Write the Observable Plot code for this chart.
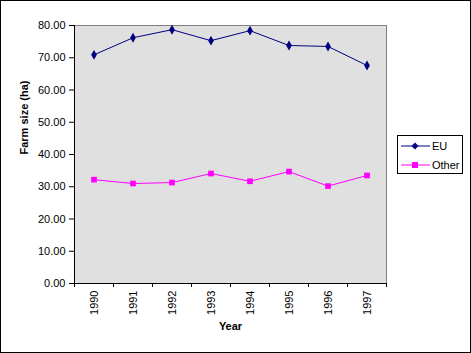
<!DOCTYPE html>
<html>
<head>
<meta charset="utf-8">
<script src="https://cdn.jsdelivr.net/npm/d3@7"></script>
<script src="https://cdn.jsdelivr.net/npm/@observablehq/plot@0.6"></script>
<style>
  html, body { margin: 0; padding: 0; background: white; }
  #wrap { position: relative; width: 471px; height: 353px; font-family: "Liberation Sans", Arial, sans-serif; }
  #border { position: absolute; left: 0; top: 0; width: 471px; height: 353px; box-sizing: border-box; border: 1px solid #000; pointer-events: none; }
  #legend { position: absolute; left: 397px; top: 135px; width: 66px; height: 39px; box-sizing: border-box; border: 1px solid #000; background: white; font-size: 11px; }
  .item { position: absolute; left: 3px; height: 14px; display: flex; align-items: center; }
  .item svg { display: block; }
  .item span { margin-left: 2px; }
</style>
</head>
<body>
<div id="wrap">
  <div id="chart"></div>
  <div id="legend"></div>
  <div id="border"></div>
</div>
<script>
const years = [1990, 1991, 1992, 1993, 1994, 1995, 1996, 1997];
const eu = [70.9, 76.2, 78.7, 75.3, 78.4, 73.8, 73.5, 67.6];
const other = [32.2, 31.0, 31.3, 34.1, 31.7, 34.7, 30.2, 33.5];
const yTicks = [0, 10, 20, 30, 40, 50, 60, 70, 80];
const seriesNames = ["EU", "Other"];
const seriesColors = ["#000080", "#ff00ff"];

const bounds = years.map(y => y - 0.5).concat([years[years.length - 1] + 0.5]);

const chart = Plot.plot({
  width: 471,
  height: 353,
  marginLeft: 74,
  marginRight: 85,
  marginTop: 25,
  marginBottom: 70,
  style: { background: "transparent", fontFamily: "'Liberation Sans', Arial, sans-serif", fontSize: "11px", color: "#000" },
  x: { type: "linear", domain: [bounds[0], bounds[bounds.length - 1]] },
  y: { domain: [0, 80] },
  marks: [
    Plot.frame({ fill: "#e0e0e0", stroke: "#808080" }),
    Plot.axisY({ ticks: yTicks, tickFormat: d => d.toFixed(2), tickSize: 5, tickPadding: 4, label: null, stroke: "#000" }),
    Plot.axisX({ ticks: bounds, tickSize: 4, tickFormat: () => "", label: null, stroke: "#000" }),
    Plot.ruleX([bounds[0]], { stroke: "#000" }),
    Plot.ruleY([0], { stroke: "#000" }),
    Plot.text(years, { x: d => d, frameAnchor: "bottom", rotate: -90, textAnchor: "end", lineAnchor: "middle", dy: 7, text: d => String(d), fill: "#000" }),
    Plot.text(["Farm size (ha)"], { frameAnchor: "left", rotate: -90, dx: -50, fontWeight: "bold", fill: "#000" }),
    Plot.text(["Year"], { frameAnchor: "bottom", dy: 46, fontWeight: "bold", fill: "#000" }),
    Plot.line(years, { x: years, y: eu, stroke: seriesColors[0], strokeWidth: 1 }),
    Plot.dot(years, { x: years, y: eu, symbol: "diamond", fill: seriesColors[0], r: 3, stroke: null }),
    Plot.line(years, { x: years, y: other, stroke: seriesColors[1], strokeWidth: 1 }),
    Plot.dot(years, { x: years, y: other, symbol: "square", fill: seriesColors[1], r: 3.2, stroke: null })
  ]
});
document.getElementById("chart").appendChild(chart);

const legend = document.getElementById("legend");
seriesNames.forEach((name, i) => {
  const d = document.createElement("div");
  d.className = "item";
  d.style.top = (3 + i * 19) + "px";
  const marker = i === 0
    ? `<path d="M14,3.5 L17.5,7 L14,10.5 L10.5,7 Z" fill="${seriesColors[i]}"/>`
    : `<rect x="11" y="4" width="6" height="6" fill="${seriesColors[i]}"/>`;
  d.innerHTML = `<svg width="29" height="14"><line x1="0" x2="29" y1="7" y2="7" stroke="${seriesColors[i]}" stroke-width="1"/>${marker}</svg><span>${name}</span>`;
  legend.appendChild(d);
});
</script>
</body>
</html>
